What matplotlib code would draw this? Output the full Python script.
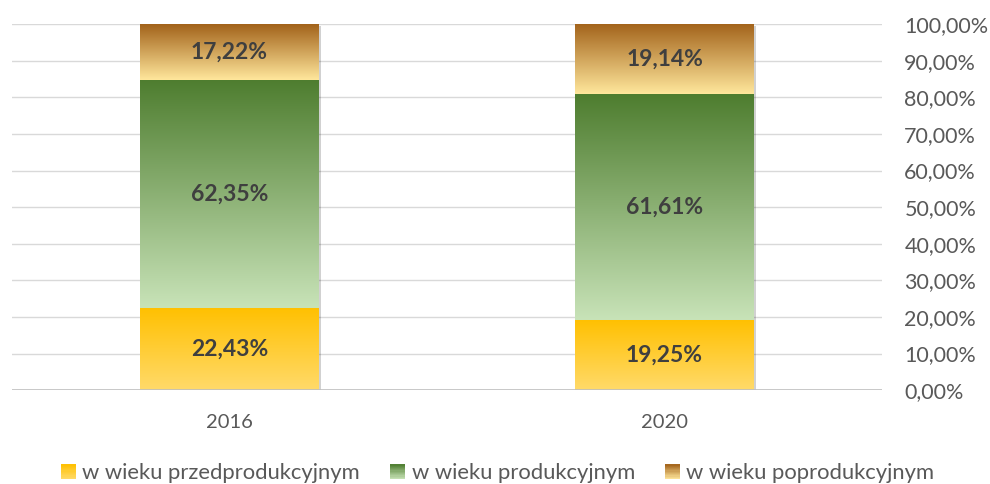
import numpy as np
import matplotlib.pyplot as plt
import matplotlib.colors as mcolors
from matplotlib.patches import Rectangle
from matplotlib.legend_handler import HandlerBase
import matplotlib.transforms as mtransforms

plt.rcParams['font.family'] = ['Lato', 'DejaVu Sans']

# data
years = ['2016', '2020']
przed = [22.43, 19.25]
prod = [62.35, 61.61]
poprod = [17.22, 19.14]
series_names = ['w wieku przedprodukcyjnym', 'w wieku produkcyjnym',
                'w wieku poprodukcyjnym']
yticks = np.arange(0, 101, 10)

# gradient colours (top, bottom)
grads = [('#FFC000', '#FFDA6A'),
         ('#4E7D2F', '#C8E3B8'),
         ('#A2621A', '#FFE79C')]

W = 0.41


def grad_img(top, bottom, n=256):
    c1 = np.array(mcolors.to_rgb(top))
    c2 = np.array(mcolors.to_rgb(bottom))
    t = np.linspace(0, 1, n)[:, None]
    return (c1 * (1 - t) + c2 * t)[:, None, :]


fig = plt.figure(figsize=(9.9, 4.84), dpi=100)
ax = fig.add_axes([0.012, 0.194, 0.879, 0.756])
ax.set_xlim(-0.5, 1.5)
ax.set_ylim(0, 100)

for v in yticks[1:]:
    ax.axhline(v, color='#D9D9D9', lw=1, zorder=0)
ax.axhline(0, color='#BFBFBF', lw=1.2, zorder=4)

shadow_tr = mtransforms.offset_copy(ax.transData, fig=fig, x=2, y=-2, units='dots')
for i, yr in enumerate(years):
    vals = [przed[i], prod[i], poprod[i]]
    bottom = 0
    x0 = i - W / 2
    top_total = min(sum(vals), 100)
    ax.add_patch(Rectangle((x0, 0), W, top_total, transform=shadow_tr,
                           color='#000000', alpha=0.18, lw=0, zorder=1))
    for k, v in enumerate(vals):
        y0, y1 = bottom, bottom + v
        vis_top = min(y1, 100)
        ax.imshow(grad_img(*grads[k]), extent=[x0, x0 + W, y0, vis_top],
                  aspect='auto', origin='upper', zorder=2,
                  interpolation='bilinear')
        ax.text(i, (y0 + vis_top) / 2, f'{v:.2f}%'.replace('.', ','),
                ha='center', va='center', fontsize=16.5, fontweight='bold',
                color='#3F3F3F', zorder=5)
        bottom = y1

ax.set_xlim(-0.5, 1.5)
ax.set_ylim(0, 100)
ax.set_xticks(range(len(years)))
ax.set_xticklabels(years)
ax.set_yticks(yticks)
ax.set_yticklabels([f'{v:.2f}%'.replace('.', ',') for v in yticks])
ax.yaxis.tick_right()
ax.tick_params(axis='y', length=0, pad=16, labelsize=15.5, labelcolor='#595959')
for lab in ax.get_yticklabels():
    lab.set_horizontalalignment('left')
ax.tick_params(axis='x', length=0, pad=17, labelsize=14.5, labelcolor='#595959')
for s in ax.spines.values():
    s.set_visible(False)


class GradHandler(HandlerBase):
    def __init__(self, top, bottom):
        super().__init__()
        self.top, self.bottom = top, bottom

    def create_artists(self, legend, orig_handle, xdescent, ydescent,
                       width, height, fontsize, trans):
        n = 12
        arts = []
        c1 = np.array(mcolors.to_rgb(self.top))
        c2 = np.array(mcolors.to_rgb(self.bottom))
        side = height * 0.95
        x = -xdescent + width - side
        y = -ydescent + (height - side) / 2
        for j in range(n):
            t = (j + 0.5) / n
            col = c2 * (1 - t) + c1 * t
            r = Rectangle((x, y + side * j / n), side, side / n + 0.3,
                          facecolor=col, lw=0, transform=trans)
            arts.append(r)
        return arts


handles = [Rectangle((0, 0), 1, 1) for _ in grads]
hmap = {h: GradHandler(*g) for h, g in zip(handles, grads)}
fig.legend(handles, series_names, handler_map=hmap, loc='center',
           bbox_to_anchor=(0.503, 0.022), ncol=3, frameon=False,
           fontsize=15.8, labelcolor='#595959', handlelength=0.65,
           handletextpad=0.3, columnspacing=1.4)

fig.savefig('out.png', dpi=100)
